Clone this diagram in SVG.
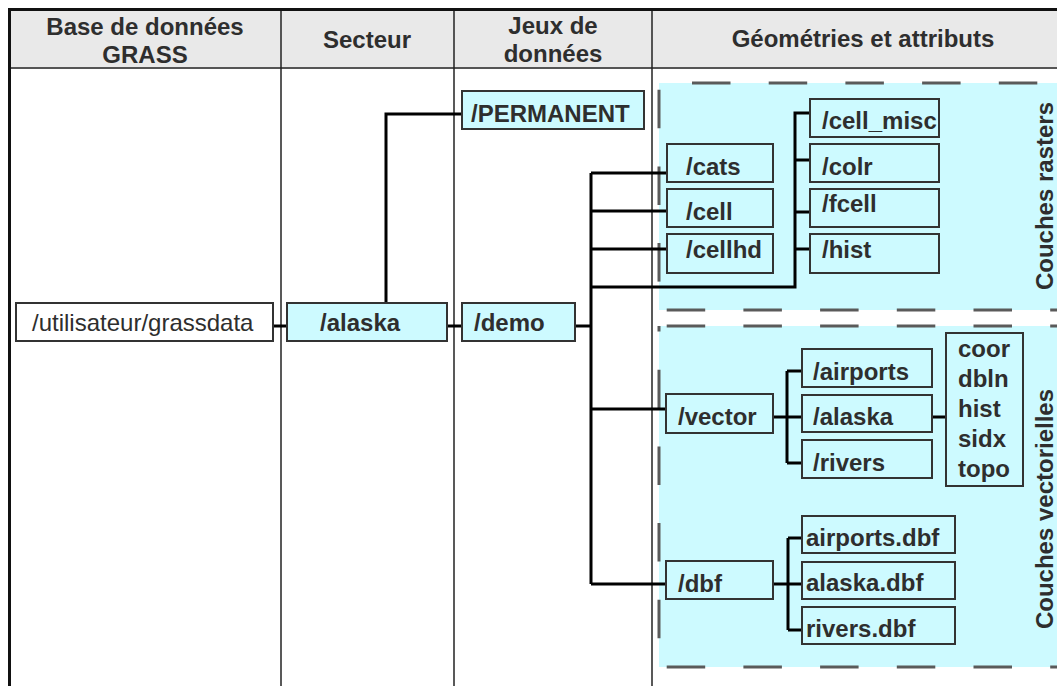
<svg xmlns="http://www.w3.org/2000/svg" width="1057" height="686" viewBox="0 0 1057 686">
<style>
text{font-family:"Liberation Sans",Arial,sans-serif;font-size:24px;fill:#2e2e2e}
.b{font-weight:bold}
.c{text-anchor:middle}
.box{fill:#cdfaff;stroke:#333;stroke-width:2}
.wbox{fill:#fff;stroke:#333;stroke-width:2}
.grp{fill:#cdfaff}
.dash{stroke:#5a5a5a;stroke-width:3;stroke-dasharray:38.5 38.2;fill:none}
.div{stroke:#222;stroke-width:1.5}
.con{stroke:#000;stroke-width:3;fill:none}
</style>
<rect width="1057" height="686" fill="#fff"/>
<g id="table">
<rect x="9" y="9" width="1048" height="59" fill="#e9e9e9"/>
<line x1="9" y1="68" x2="1057" y2="68" stroke="#555" stroke-width="2"/>
<line class="div" x1="281" y1="9" x2="281" y2="686"/>
<line class="div" x1="454" y1="9" x2="454" y2="686"/>
<line class="div" x1="652" y1="9" x2="652" y2="686"/>
<line x1="8" y1="9.5" x2="1057" y2="9.5" stroke="#111" stroke-width="3"/>
<line x1="9.5" y1="8" x2="9.5" y2="686" stroke="#111" stroke-width="3"/>
<text class="b c" x="145" y="35">Base de données</text>
<text class="b c" x="145" y="63">GRASS</text>
<text class="b c" x="367" y="48">Secteur</text>
<text class="b c" x="553" y="34">Jeux de</text>
<text class="b c" x="553" y="62">données</text>
<text class="b c" x="863" y="47">Géométries et attributs</text>
</g>
<g id="raster-group">
<rect class="grp" x="659" y="83" width="398" height="227"/>
<line class="dash" x1="659" y1="83" x2="1057" y2="83" style="stroke-dashoffset:43.7"/>
<line class="dash" x1="659" y1="310" x2="1057" y2="310" style="stroke-dashoffset:69"/>
<line class="dash" x1="659" y1="83" x2="659" y2="310" style="stroke-dashoffset:70"/>
<text class="b c" transform="translate(1053,196) rotate(-90)">Couches rasters</text>
</g>
<g id="vector-group">
<rect class="grp" x="659" y="326" width="398" height="341"/>
<line class="dash" x1="659" y1="326" x2="1057" y2="326" style="stroke-dashoffset:69"/>
<line class="dash" x1="659" y1="667" x2="1057" y2="667" style="stroke-dashoffset:69"/>
<line class="dash" x1="659" y1="326" x2="659" y2="667" style="stroke-dashoffset:33"/>
<text class="b c" transform="translate(1053,509) rotate(-90)">Couches vectorielles</text>
</g>
<g id="connectors">
<path class="con" d="M273,326H287"/>
<path class="con" d="M386,303V114H462"/>
<path class="con" d="M447,326H462"/>
<path class="con" d="M575,326H591"/>
<path class="con" d="M591,173V584"/>
<path class="con" d="M591,173H667"/>
<path class="con" d="M591,211H667"/>
<path class="con" d="M591,249H667"/>
<path class="con" d="M591,287H795V113H810"/>
<path class="con" d="M795,160H810M795,212H810M795,249H810"/>
<path class="con" d="M591,409H666"/>
<path class="con" d="M773,417H787"/>
<path class="con" d="M787,371V463M787,371H802M787,417H802M787,463H802"/>
<path class="con" d="M932,417H946"/>
<path class="con" d="M591,584H666"/>
<path class="con" d="M773,584H788"/>
<path class="con" d="M788,538V630M788,538H802M788,584H802M788,630H802"/>
</g>
<g id="n-grassdata"><rect class="wbox" x="16" y="303" width="257" height="38"/><text x="32" y="331">/utilisateur/grassdata</text></g>
<g id="n-alaska"><rect class="box" x="287" y="303" width="160" height="38"/><text class="b" x="320" y="331">/alaska</text></g>
<g id="n-permanent"><rect class="box" x="462" y="91" width="182" height="38"/><text class="b" x="471" y="122">/PERMANENT</text></g>
<g id="n-demo"><rect class="box" x="462" y="303" width="113" height="38"/><text class="b" x="474" y="331">/demo</text></g>
<g id="n-cats"><rect class="box" x="667" y="144" width="106" height="38"/><text class="b" x="686" y="175">/cats</text></g>
<g id="n-cell"><rect class="box" x="667" y="189" width="106" height="38"/><text class="b" x="686" y="220">/cell</text></g>
<g id="n-cellhd"><rect class="box" x="667" y="234" width="106" height="39"/><text class="b" x="686" y="258">/cellhd</text></g>
<g id="n-cell_misc"><rect class="box" x="810" y="99" width="129" height="38"/><text class="b" x="822" y="129">/cell_misc</text></g>
<g id="n-colr"><rect class="box" x="810" y="144" width="129" height="38"/><text class="b" x="822" y="175">/colr</text></g>
<g id="n-fcell"><rect class="box" x="810" y="189" width="129" height="38"/><text class="b" x="822" y="212">/fcell</text></g>
<g id="n-hist"><rect class="box" x="810" y="234" width="129" height="39"/><text class="b" x="822" y="258">/hist</text></g>
<g id="n-vector"><rect class="box" x="666" y="394" width="107" height="39"/><text class="b" x="678" y="425">/vector</text></g>
<g id="n-airports"><rect class="box" x="802" y="349" width="130" height="38"/><text class="b" x="813" y="380">/airports</text></g>
<g id="n-valaska"><rect class="box" x="802" y="395" width="130" height="37"/><text class="b" x="813" y="425">/alaska</text></g>
<g id="n-rivers"><rect class="box" x="802" y="440" width="130" height="38"/><text class="b" x="813" y="471">/rivers</text></g>
<g id="n-files"><rect class="box" x="946" y="333" width="77" height="153"/>
<text class="b" x="958" y="357">coor</text><text class="b" x="958" y="387">dbln</text><text class="b" x="958" y="417">hist</text><text class="b" x="958" y="447">sidx</text><text class="b" x="958" y="477">topo</text></g>
<g id="n-dbf"><rect class="box" x="666" y="561" width="107" height="38"/><text class="b" x="678" y="592">/dbf</text></g>
<g id="n-airportsdbf"><rect class="box" x="802" y="516" width="153" height="37"/><text class="b" x="806" y="546">airports.dbf</text></g>
<g id="n-alaskadbf"><rect class="box" x="802" y="562" width="153" height="37"/><text class="b" x="806" y="591">alaska.dbf</text></g>
<g id="n-riversdbf"><rect class="box" x="802" y="607" width="153" height="37"/><text class="b" x="806" y="637">rivers.dbf</text></g>
</svg>
